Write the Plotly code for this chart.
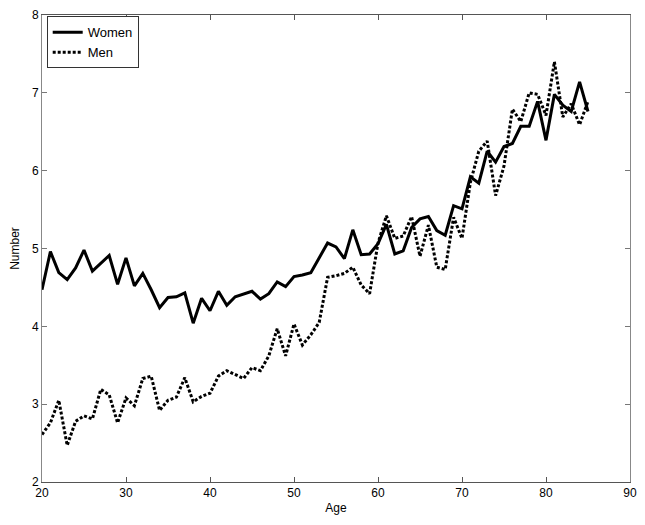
import plotly.graph_objects as go

ages = list(range(20, 86))
women = [4.47, 4.96, 4.69, 4.60, 4.75, 4.98, 4.71, 4.81, 4.91, 4.54,
         4.88, 4.52, 4.68, 4.47, 4.24, 4.37, 4.38, 4.43, 4.04, 4.36,
         4.20, 4.45, 4.27, 4.38, 4.41, 4.45, 4.35, 4.42, 4.57, 4.51,
         4.64, 4.66, 4.69, 4.89, 5.07, 5.02, 4.87, 5.24, 4.92, 4.93,
         5.06, 5.31, 4.93, 4.97, 5.27, 5.38, 5.41, 5.23, 5.17, 5.55,
         5.51, 5.92, 5.84, 6.25, 6.11, 6.31, 6.35, 6.57, 6.57, 6.89,
         6.39, 6.98, 6.84, 6.76, 7.14, 6.76]
men = [2.61, 2.76, 3.05, 2.47, 2.78, 2.85, 2.81, 3.19, 3.12, 2.76,
       3.08, 2.98, 3.33, 3.36, 2.92, 3.05, 3.09, 3.34, 3.03, 3.10,
       3.14, 3.36, 3.43, 3.38, 3.33, 3.47, 3.43, 3.62, 3.97, 3.62,
       4.03, 3.76, 3.89, 4.05, 4.63, 4.65, 4.68, 4.76, 4.53, 4.42,
       5.07, 5.42, 5.13, 5.16, 5.41, 4.90, 5.30, 4.76, 4.73, 5.40,
       5.13, 5.85, 6.25, 6.38, 5.68, 6.06, 6.79, 6.63, 7.00, 6.98,
       6.71, 7.40, 6.69, 6.86, 6.59, 6.89]

FONT = "Liberation Sans, Arial"

fig = go.Figure()
fig.add_trace(go.Scatter(x=ages, y=women, mode="lines", name="Women",
                         line=dict(color="black", width=3)))
fig.add_trace(go.Scatter(x=ages, y=men, mode="lines", name="Men",
                         line=dict(color="black", width=3, dash="3px,2px")))

axis_common = dict(showline=True, mirror="ticks", linewidth=1,
                   ticks="inside", ticklen=5, showgrid=False,
                   zeroline=False, tickfont=dict(family=FONT, size=12, color="black"))

fig.update_xaxes(range=[20, 90], dtick=10, tick0=20, linecolor="#555", tickcolor="#555",
                 title=dict(text="Age", font=dict(family=FONT, size=12, color="black"), standoff=4),
                 **axis_common)
fig.update_yaxes(range=[2, 8], dtick=1, tick0=2, linecolor="#888", tickcolor="#777",
                 title=dict(text="Number", font=dict(family=FONT, size=12, color="black"), standoff=9),
                 **axis_common)

fig.update_layout(
    width=645, height=525,
    margin=dict(l=42, r=8, t=11, b=43),
    plot_bgcolor="white", paper_bgcolor="white",
    font=dict(family=FONT, size=12, color="black"),
    legend=dict(x=0.008, y=0.997, xanchor="left", yanchor="top",
                bordercolor="#333", borderwidth=1, bgcolor="white",
                font=dict(family=FONT, size=13), tracegroupgap=0, itemwidth=30),
    showlegend=True,
)

fig.write_html("out.html")
